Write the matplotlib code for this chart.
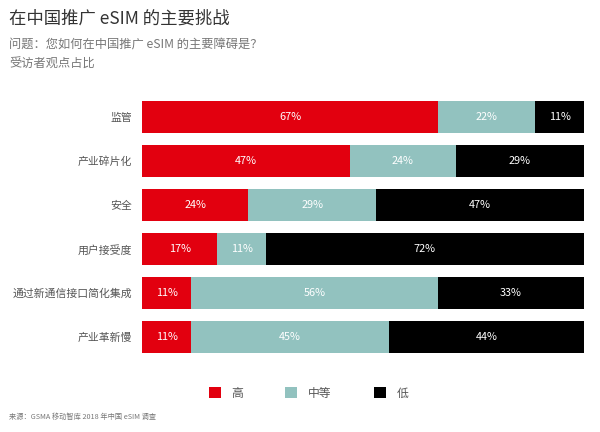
import matplotlib
matplotlib.use("Agg")
import matplotlib.pyplot as plt
from matplotlib.patches import Patch

plt.rcParams['font.family'] = ['Noto Sans CJK SC', 'DejaVu Sans']

categories = ["监管", "产业碎片化", "安全", "用户接受度", "通过新通信接口简化集成", "产业革新慢"]
high = [67, 47, 24, 17, 11, 11]
medium = [22, 24, 29, 11, 56, 45]
low = [11, 29, 47, 72, 33, 44]
series_names = ["高", "中等", "低"]
colors = ["#E2000F", "#92C2BF", "#000000"]

fig = plt.figure(figsize=(6, 4.32), dpi=100)
ax = fig.add_axes([0.237, 0.169, 0.736, 0.611])

y = list(range(len(categories)))
left = [0] * len(categories)
for vals, col in zip([high, medium, low], colors):
    ax.barh(y, vals, left=left, height=0.73, color=col, edgecolor='none')
    for yi, v, l in zip(y, vals, left):
        ax.text(l + v / 2, yi, f"{v}%", ha='center', va='center', color='white', fontsize=7.8)
    left = [a + b for a, b in zip(left, vals)]

ax.set_xlim(0, 100)
ax.set_ylim(len(categories) - 0.5, -0.5)
ax.set_yticks(y)
ax.set_yticklabels(categories, fontsize=7.8, color='#555555')
ax.tick_params(axis='y', length=0, pad=7)
ax.set_xticks([])
for s in ax.spines.values():
    s.set_visible(False)

fig.text(0.015, 0.958, "在中国推广 eSIM 的主要挑战", fontsize=12.5, color='#333333', va='center')
fig.text(0.015, 0.895, "问题：您如何在中国推广 eSIM 的主要障碍是？", fontsize=8.8, color='#777777', va='center')
fig.text(0.015, 0.851, "受访者观点占比", fontsize=8.8, color='#777777', va='center')
fig.text(0.015, 0.035, "来源：GSMA 移动智库 2018 年中国 eSIM 调查", fontsize=5.2, color='#777777', va='center')

handles = [Patch(facecolor=c, edgecolor='none') for c in colors]
fig.legend(handles, series_names, loc='center', bbox_to_anchor=(0.514, 0.09), ncol=3,
           frameon=False, fontsize=8.5, labelcolor='#555555', handlelength=1.0, handleheight=1.0,
           columnspacing=3.6, handletextpad=0.9)

fig.savefig("out.png", dpi=100, facecolor='white')
